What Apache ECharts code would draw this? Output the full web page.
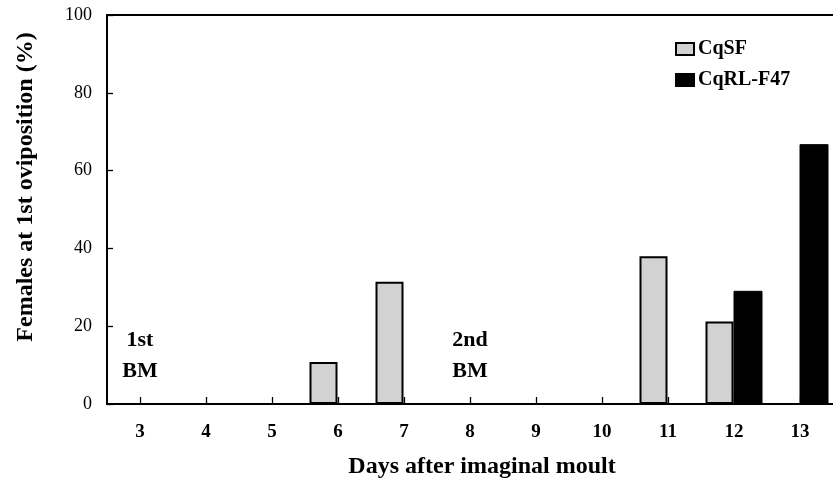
<!DOCTYPE html>
<html>
<head>
<meta charset="utf-8">
<script src="https://cdn.jsdelivr.net/npm/echarts@6/dist/echarts.min.js"></script>
<style>html,body{margin:0;padding:0;background:#fff}#c{width:833px;height:479px}</style>
</head>
<body>
<div id="c"></div>
<script>
const days = ['3','4','5','6','7','8','9','10','11','12','13'];
const cqsf = [0, 0, 0, 10.8, 31.4, 0, 0, 0, 38.0, 21.2, 0];
const cqrl = [0, 0, 0, 0, 0, 0, 0, 0, 0, 29.1, 66.8];
const yTicks = [0, 20, 40, 60, 80, 100];
const seriesNames = ['CqSF', 'CqRL-F47'];
const notes = [{day: '3', lines: ['1st', 'BM']}, {day: '8', lines: ['2nd', 'BM']}];

const serif = 'Liberation Serif, Times New Roman, serif';
const chart = echarts.init(document.getElementById('c'), null, {renderer: 'canvas'});
chart.setOption({
  animation: false,
  backgroundColor: '#fff',
  grid: {left: 107, right: 0, top: 15, bottom: 75},
  legend: {
    orient: 'vertical', left: 675, top: 39, padding: 0, itemWidth: 18, itemHeight: 12, itemGap: 11,
    icon: 'rect',
    textStyle: {fontFamily: serif, fontWeight: 'bold', fontSize: 20, color: '#000', padding: [0, 0, 0, -1]},
    data: seriesNames
  },
  xAxis: [{
    type: 'category', data: days,
    axisLine: {lineStyle: {color: '#000', width: 2}},
    axisTick: {show: true, inside: true, alignWithLabel: true, length: 7, lineStyle: {color: '#000', width: 1.3}},
    axisLabel: {fontFamily: serif, fontWeight: 'bold', fontSize: 19, color: '#000', margin: 19}
  }, {
    type: 'category', data: days, position: 'top',
    axisLine: {show: true, lineStyle: {color: '#000', width: 2}},
    axisTick: {show: false}, axisLabel: {show: false}
  }],
  yAxis: {
    type: 'value', min: yTicks[0], max: yTicks[yTicks.length - 1], interval: 20,
    axisLine: {show: true, lineStyle: {color: '#000', width: 2}},
    axisTick: {show: true, inside: true, length: 6, lineStyle: {color: '#000', width: 1.3}},
    splitLine: {show: false},
    axisLabel: {fontFamily: serif, fontSize: 18, color: '#000', margin: 15}
  },
  series: [
    {name: seriesNames[0], type: 'bar', data: cqsf, barWidth: 28, barGap: '0%',
     itemStyle: {color: '#d2d2d2', borderColor: '#000', borderWidth: 2}},
    {name: seriesNames[1], type: 'bar', data: cqrl, barWidth: 29,
     itemStyle: {color: '#000', borderColor: '#000', borderWidth: 1}}
  ]
});

const g = [];
notes.forEach(n => {
  const x = chart.convertToPixel({xAxisIndex: 0}, n.day);
  n.lines.forEach((t, i) => {
    const y = chart.convertToPixel({yAxisIndex: 0}, 16.3 - i * 8);
    g.push({type: 'text', x: x, y: y, style: {text: t, fontFamily: serif, fontWeight: 'bold', fontSize: 22, fill: '#000', textAlign: 'center', textVerticalAlign: 'middle'}});
  });
});
g.push({type: 'text', x: 26, y: 187, rotation: Math.PI / 2,
  style: {text: 'Females at 1st oviposition (%)', fontFamily: serif, fontWeight: 'bold', fontSize: 24, fill: '#000', textAlign: 'center', textVerticalAlign: 'middle'}});
g.push({type: 'text', x: 482, y: 467,
  style: {text: 'Days after imaginal moult', fontFamily: serif, fontWeight: 'bold', fontSize: 24, fill: '#000', textAlign: 'center', textVerticalAlign: 'middle'}});
chart.setOption({graphic: g});
</script>
</body>
</html>
